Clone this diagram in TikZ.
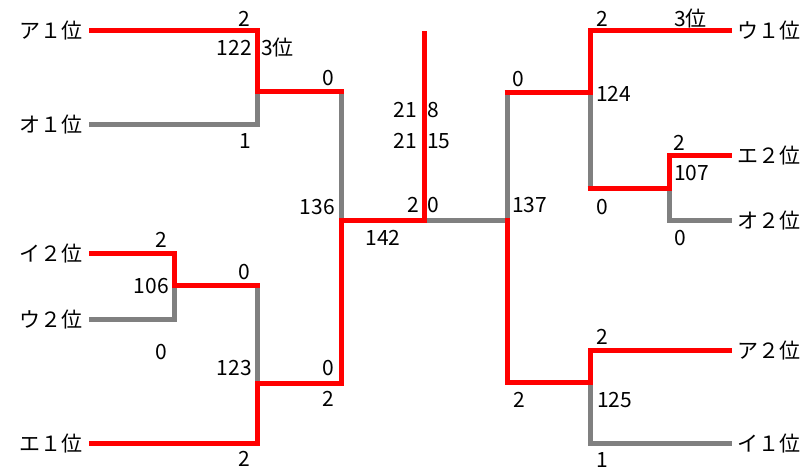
\documentclass[tikz,border=0pt]{standalone}
\usepackage{fontspec}
\setmainfont{Noto Sans CJK JP}
\definecolor{winred}{RGB}{255,0,0}
\definecolor{losegrey}{RGB}{128,128,128}
\begin{document}
\begin{tikzpicture}[x=1pt,y=-1pt,
  win/.style={draw=winred,line width=5pt,line join=miter},
  lose/.style={draw=losegrey,line width=5pt,line join=miter},
  lbl/.style={inner sep=0pt,font=\fontsize{21}{23}\selectfont,text=black},
  team/.style={inner sep=0pt,font=\fontsize{21}{23}\selectfont,text=black}]
\useasboundingbox (0,0) rectangle (807,473);
% team names
\node[team,anchor=east] (tA1) at (83,31) {ア１位};
\node[team,anchor=east] (tO1) at (83,125) {オ１位};
\node[team,anchor=east] (tI2) at (83,254) {イ２位};
\node[team,anchor=east] (tU2) at (83,320) {ウ２位};
\node[team,anchor=east] (tE1) at (83,444) {エ１位};
\node[team,anchor=west] (tU1) at (737,31) {ウ１位};
\node[team,anchor=west] (tE2) at (737,156) {エ２位};
\node[team,anchor=west] (tO2) at (737,221) {オ２位};
\node[team,anchor=west] (tA2) at (737,351) {ア２位};
\node[team,anchor=west] (tI1) at (737,444) {イ１位};
% coordinates
\coordinate (A1) at (89,31);   \coordinate (J1t) at (257,31);
\coordinate (J1) at (257,92);  \coordinate (O1) at (89,125);
\coordinate (J1b) at (257,125);\coordinate (L1) at (341,92);
\coordinate (L1e) at (343.5,92);
\coordinate (L2) at (341,221); \coordinate (LB) at (341,384);
\coordinate (I2) at (89,254);  \coordinate (J2t) at (174,254);
\coordinate (J2) at (174,286); \coordinate (U2) at (89,320);
\coordinate (J2b) at (174,320);\coordinate (J3t) at (257,286);
\coordinate (J3te) at (259.5,286);
\coordinate (J3) at (257,384); \coordinate (E1) at (89,444);
\coordinate (J3b) at (257,444);
\coordinate (C) at (424,221);  \coordinate (Ctop) at (424,31);
\coordinate (R2) at (507,221); \coordinate (R2t) at (507,218.5);
\coordinate (R1) at (507,93);  \coordinate (R1e) at (504.5,93);
\coordinate (RB) at (507,383);
\coordinate (K1) at (590,93);  \coordinate (K1t) at (590,31);
\coordinate (U1) at (732,31);  \coordinate (K1b) at (590,189);
\coordinate (K1be) at (587.5,189);
\coordinate (K2) at (669,189); \coordinate (K2t) at (669,156);
\coordinate (E2) at (732,156); \coordinate (K2b) at (669,221);
\coordinate (O2) at (732,221);
\coordinate (K3) at (590,383); \coordinate (K3t) at (590,351);
\coordinate (A2) at (732,351); \coordinate (K3b) at (590,444);
\coordinate (I1) at (732,444);
% losing lines
\draw[lose] (O1) -- (J1b) -- (J1);
\draw[lose] (L1) -- (L2);
\draw[lose] (U2) -- (J2b) -- (J2);
\draw[lose] (J3t) -- (J3);
\draw[lose] (C) -- (R2);
\draw[lose] (R1) -- (R2);
\draw[lose] (K1) -- (K1b);
\draw[lose] (K2) -- (K2b) -- (O2);
\draw[lose] (K3) -- (K3b) -- (I1);
% winning lines
\draw[win] (A1) -- (J1t) -- (J1) -- (L1e);
\draw[win] (I2) -- (J2t) -- (J2) -- (J3te);
\draw[win] (E1) -- (J3b) -- (J3) -- (LB) -- (L2) -- (C) -- (Ctop);
\draw[win] (R1e) -- (K1) -- (K1t) -- (U1);
\draw[win] (K1be) -- (K2) -- (K2t) -- (E2);
\draw[win] (R2t) -- (RB) -- (K3) -- (K3t) -- (A2);
% score labels, left
\node[lbl] (s1) at (244,19) {2};
\node[lbl,anchor=east] (s2) at (252,48) {122};
\node[lbl,anchor=west] (s3) at (261,48) {3位};
\node[lbl] (s4) at (328,78) {0};
\node[lbl] (s5) at (245,141) {1};
\node[lbl] (s6) at (161,240) {2};
\node[lbl,anchor=east] (s7) at (169,286) {106};
\node[lbl] (s8) at (244,272) {0};
\node[lbl] (s9) at (161,352) {0};
\node[lbl,anchor=east] (s10) at (252,368) {123};
\node[lbl] (s11) at (328,368) {0};
\node[lbl] (s12) at (328,399) {2};
\node[lbl] (s13) at (244,459) {2};
\node[lbl,anchor=east] (s14) at (335,207) {136};
\node[lbl] (s15) at (383,238) {142};
% center
\node[lbl,anchor=east] (s16) at (417,110) {21};
\node[lbl,anchor=west] (s17) at (427,110) {8};
\node[lbl,anchor=east] (s18) at (417,141) {21};
\node[lbl,anchor=west] (s19) at (427,141) {15};
\node[lbl,anchor=east] (s20) at (419,205) {2};
\node[lbl,anchor=west] (s21) at (427,205) {0};
\node[lbl,anchor=west] (s22) at (512,205) {137};
% right
\node[lbl] (s23) at (518,79) {0};
\node[lbl] (s24) at (602,19) {2};
\node[lbl,anchor=west] (s25) at (674,19) {3位};
\node[lbl,anchor=west] (s26) at (596,94) {124};
\node[lbl] (s27) at (679,143) {2};
\node[lbl,anchor=west] (s28) at (674,173) {107};
\node[lbl] (s29) at (602,207) {0};
\node[lbl] (s30) at (680,238) {0};
\node[lbl] (s31) at (602,337) {2};
\node[lbl] (s32) at (519,400) {2};
\node[lbl,anchor=west] (s33) at (597,400) {125};
\node[lbl] (s34) at (602,460) {1};
\end{tikzpicture}
\end{document}
